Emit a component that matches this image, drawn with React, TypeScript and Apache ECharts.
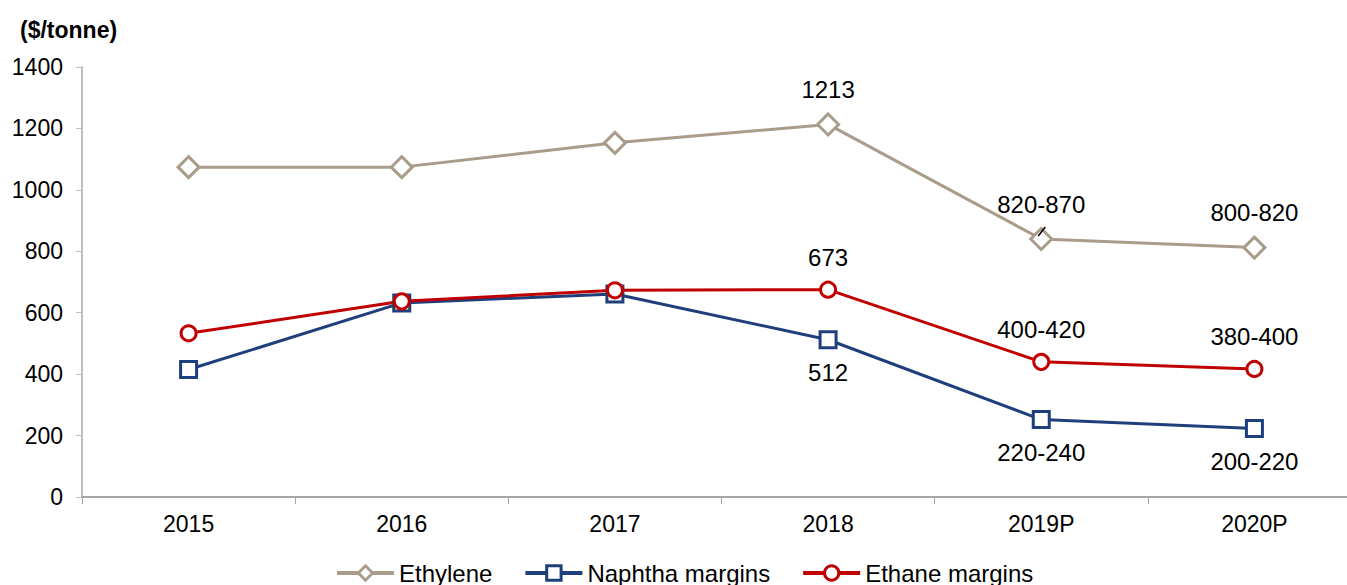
import React, { useEffect, useRef } from "react";
import * as echarts from "echarts";

const categories = ["2015", "2016", "2017", "2018", "2019P", "2020P"];
const ethylene = [1074, 1074, 1153, 1213, 840, 812];
const naphtha = [415, 632, 661, 512, 252, 223];
const ethane = [533, 637, 673, 675, 440, 417];
const ethyleneLabels = ["", "", "", "1213", "820-870", "800-820"];
const naphthaLabels = ["", "", "", "512", "220-240", "200-220"];
const ethaneLabels = ["", "", "", "673", "400-420", "380-400"];
const yTicks = [0, 200, 400, 600, 800, 1000, 1200, 1400];

const FONT = "'Liberation Sans', Arial, sans-serif";

function buildData(values: number[], labels: string[], pos: string) {
  return values.map((v, i) => ({
    value: v,
    label: labels[i]
      ? {
          show: true,
          position: pos,
          distance: 11,
          formatter: labels[i],
          color: "#000",
          fontSize: 24,
          fontFamily: FONT,
        }
      : { show: false },
  }));
}

export default function App() {
  const ref = useRef<HTMLDivElement>(null);
  useEffect(() => {
    if (!ref.current) return;
    const chart = echarts.init(ref.current, null, { renderer: "svg" });
    const mk = (name: string, data: any, color: string, symbol: string, size: number) => ({
      name,
      type: "line",
      data,
      symbol,
      symbolSize: size,
      showAllSymbol: true,
      lineStyle: { color, width: 3 },
      itemStyle: { color: "#fff", borderColor: color, borderWidth: 3 },
      z: 3,
    });
    const option: any = {
      animation: false,
      textStyle: { fontFamily: FONT },
      title: {
        text: "($/tonne)",
        left: 15,
        top: 13,
        textStyle: { fontSize: 23, fontWeight: "bold", color: "#000", fontFamily: FONT },
      },
      legend: {
        top: 556,
        left: 330,
        itemWidth: 57,
        itemHeight: 18,
        itemGap: 31,
        lineStyle: { width: 4 },
        itemStyle: { borderWidth: 3 },
        textStyle: { fontSize: 24, color: "#000", fontFamily: FONT },
        data: ["Ethylene", "Naphtha margins", "Ethane margins"],
      },
      grid: { left: 82, right: 19, top: 67, bottom: 88 },
      xAxis: {
        type: "category",
        data: categories,
        boundaryGap: true,
        axisLine: { lineStyle: { color: "#A6A6A6", width: 2 } },
        axisTick: { show: true, length: 7, lineStyle: { color: "#A6A6A6" } },
        axisLabel: { fontSize: 23, color: "#000", margin: 15, fontFamily: FONT },
        splitLine: { show: false },
      },
      yAxis: {
        type: "value",
        min: yTicks[0],
        max: yTicks[yTicks.length - 1],
        interval: 200,
        axisLine: { show: true, lineStyle: { color: "#BFBFBF", width: 2 } },
        axisTick: { show: true, length: 6, lineStyle: { color: "#BFBFBF" } },
        axisLabel: {
          fontSize: 23,
          color: "#000",
          margin: 19,
          fontFamily: FONT,
          formatter: (v: number) => String(v),
        },
        splitLine: { show: false },
      },
      series: [
        mk("Ethylene", buildData(ethylene, ethyleneLabels, "top"), "#A99C8A", "diamond", 21),
        mk("Naphtha margins", buildData(naphtha, naphthaLabels, "bottom"), "#1F3F7C", "rect", 16),
        mk("Ethane margins", buildData(ethane, ethaneLabels, "top"), "#C00000", "circle", 15),
      ],
    };
    chart.setOption(option);
    const p = chart.convertToPixel({ seriesIndex: 0 }, [categories[4], ethylene[4]]) as number[];
    if (p) {
      chart.setOption({
        graphic: [
          {
            type: "line",
            shape: { x1: p[0] - 3, y1: p[1] - 3, x2: p[0] + 4, y2: p[1] - 12 },
            style: { stroke: "#000", lineWidth: 1.5 },
            z: 10,
          },
        ],
      });
    }
    return () => chart.dispose();
  }, []);
  return (
    <div
      style={{
        position: "absolute",
        left: 0,
        top: 0,
        width: 1347,
        height: 585,
        overflow: "hidden",
        background: "#fff",
      }}
    >
      <div ref={ref} style={{ width: 1380, height: 585 }} />
    </div>
  );
}
